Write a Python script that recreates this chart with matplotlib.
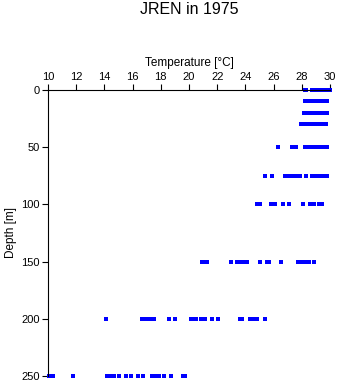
import matplotlib
matplotlib.use('Agg')
import matplotlib.pyplot as plt

plt.rcParams['font.family'] = ['Liberation Sans', 'DejaVu Sans']

# temperature readings (deg C) for each sampled depth (m)
t_0 = [28.2, 28.3, 28.7, 28.8, 29.0, 29.2, 29.4, 29.6, 29.8, 30.0]
t_10 = [28.2, 28.4, 28.6, 28.8, 29.0, 29.2, 29.4, 29.6, 29.8]
t_20 = [28.15, 28.3, 28.5, 28.7, 28.85, 29.1, 29.3, 29.5, 29.7, 29.8]
t_30 = [27.95, 28.1, 28.3, 28.5, 28.7, 28.9, 29.05, 29.3, 29.5, 29.75]
t_50 = [26.3, 27.3, 27.6, 28.2, 28.4, 28.6, 28.9, 29.1, 29.3, 29.5, 29.8]
t_75 = [25.4, 25.9, 26.8, 27.1, 27.4, 27.6, 27.9, 28.3, 28.7, 29.0, 29.3, 29.5, 29.8]
t_100 = [24.8, 25.0, 25.8, 26.1, 26.7, 27.1, 28.1, 28.6, 28.9, 29.2, 29.4]
t_150 = [20.9, 21.1, 21.3, 23.0, 23.4, 23.6, 23.9, 24.1, 25.0, 25.5, 25.7,
         26.5, 27.7, 27.9, 28.1, 28.3, 28.5, 28.9]
t_200 = [14.1, 16.7, 16.85, 17.1, 17.2, 17.5, 18.55, 19.0, 20.15, 20.3, 20.5,
         20.85, 21.1, 21.65, 22.05, 23.6, 23.75, 24.35, 24.5, 24.7, 24.85, 25.4]
t_250 = [10.05, 10.35, 11.8, 14.2, 14.45, 14.7, 15.0, 15.55, 15.9, 16.4, 16.75,
         17.4, 17.65, 17.9, 18.2, 18.75, 19.55, 19.75]

depths = [0, 10, 20, 30, 50, 75, 100, 150, 200, 250]
temps = [t_0, t_10, t_20, t_30, t_50, t_75, t_100, t_150, t_200, t_250]

fig = plt.figure(figsize=(3.41, 3.84), dpi=100)
ax = fig.add_axes([48/341, 8/384, 282/341, 286/384])

for d, t in zip(depths, temps):
    ax.plot(t, [d]*len(t), ls='none', marker='s', ms=2.5, mew=0,
            color='#0000ff', clip_on=False)

ax.set_xlim(10, 30)
ax.set_ylim(250, 0)
ax.set_xticks(range(10, 31, 2))
ax.set_yticks(range(0, 251, 50))
ax.xaxis.tick_top()
ax.xaxis.set_label_position('top')
ax.spines['right'].set_visible(False)
ax.spines['bottom'].set_visible(False)
for s in ['left', 'top']:
    ax.spines[s].set_linewidth(0.8)
ax.tick_params(direction='out', length=4, width=0.8, labelsize=8, pad=2)

ax.set_xlabel('Temperature [°C]', fontsize=8.5, labelpad=4)
ax.set_ylabel('Depth [m]', fontsize=8.5, labelpad=3)
fig.text(189/341, 1 - 10/384, 'JREN in 1975', ha='center', va='center', fontsize=11.5)

fig.savefig('out.png', dpi=100)
